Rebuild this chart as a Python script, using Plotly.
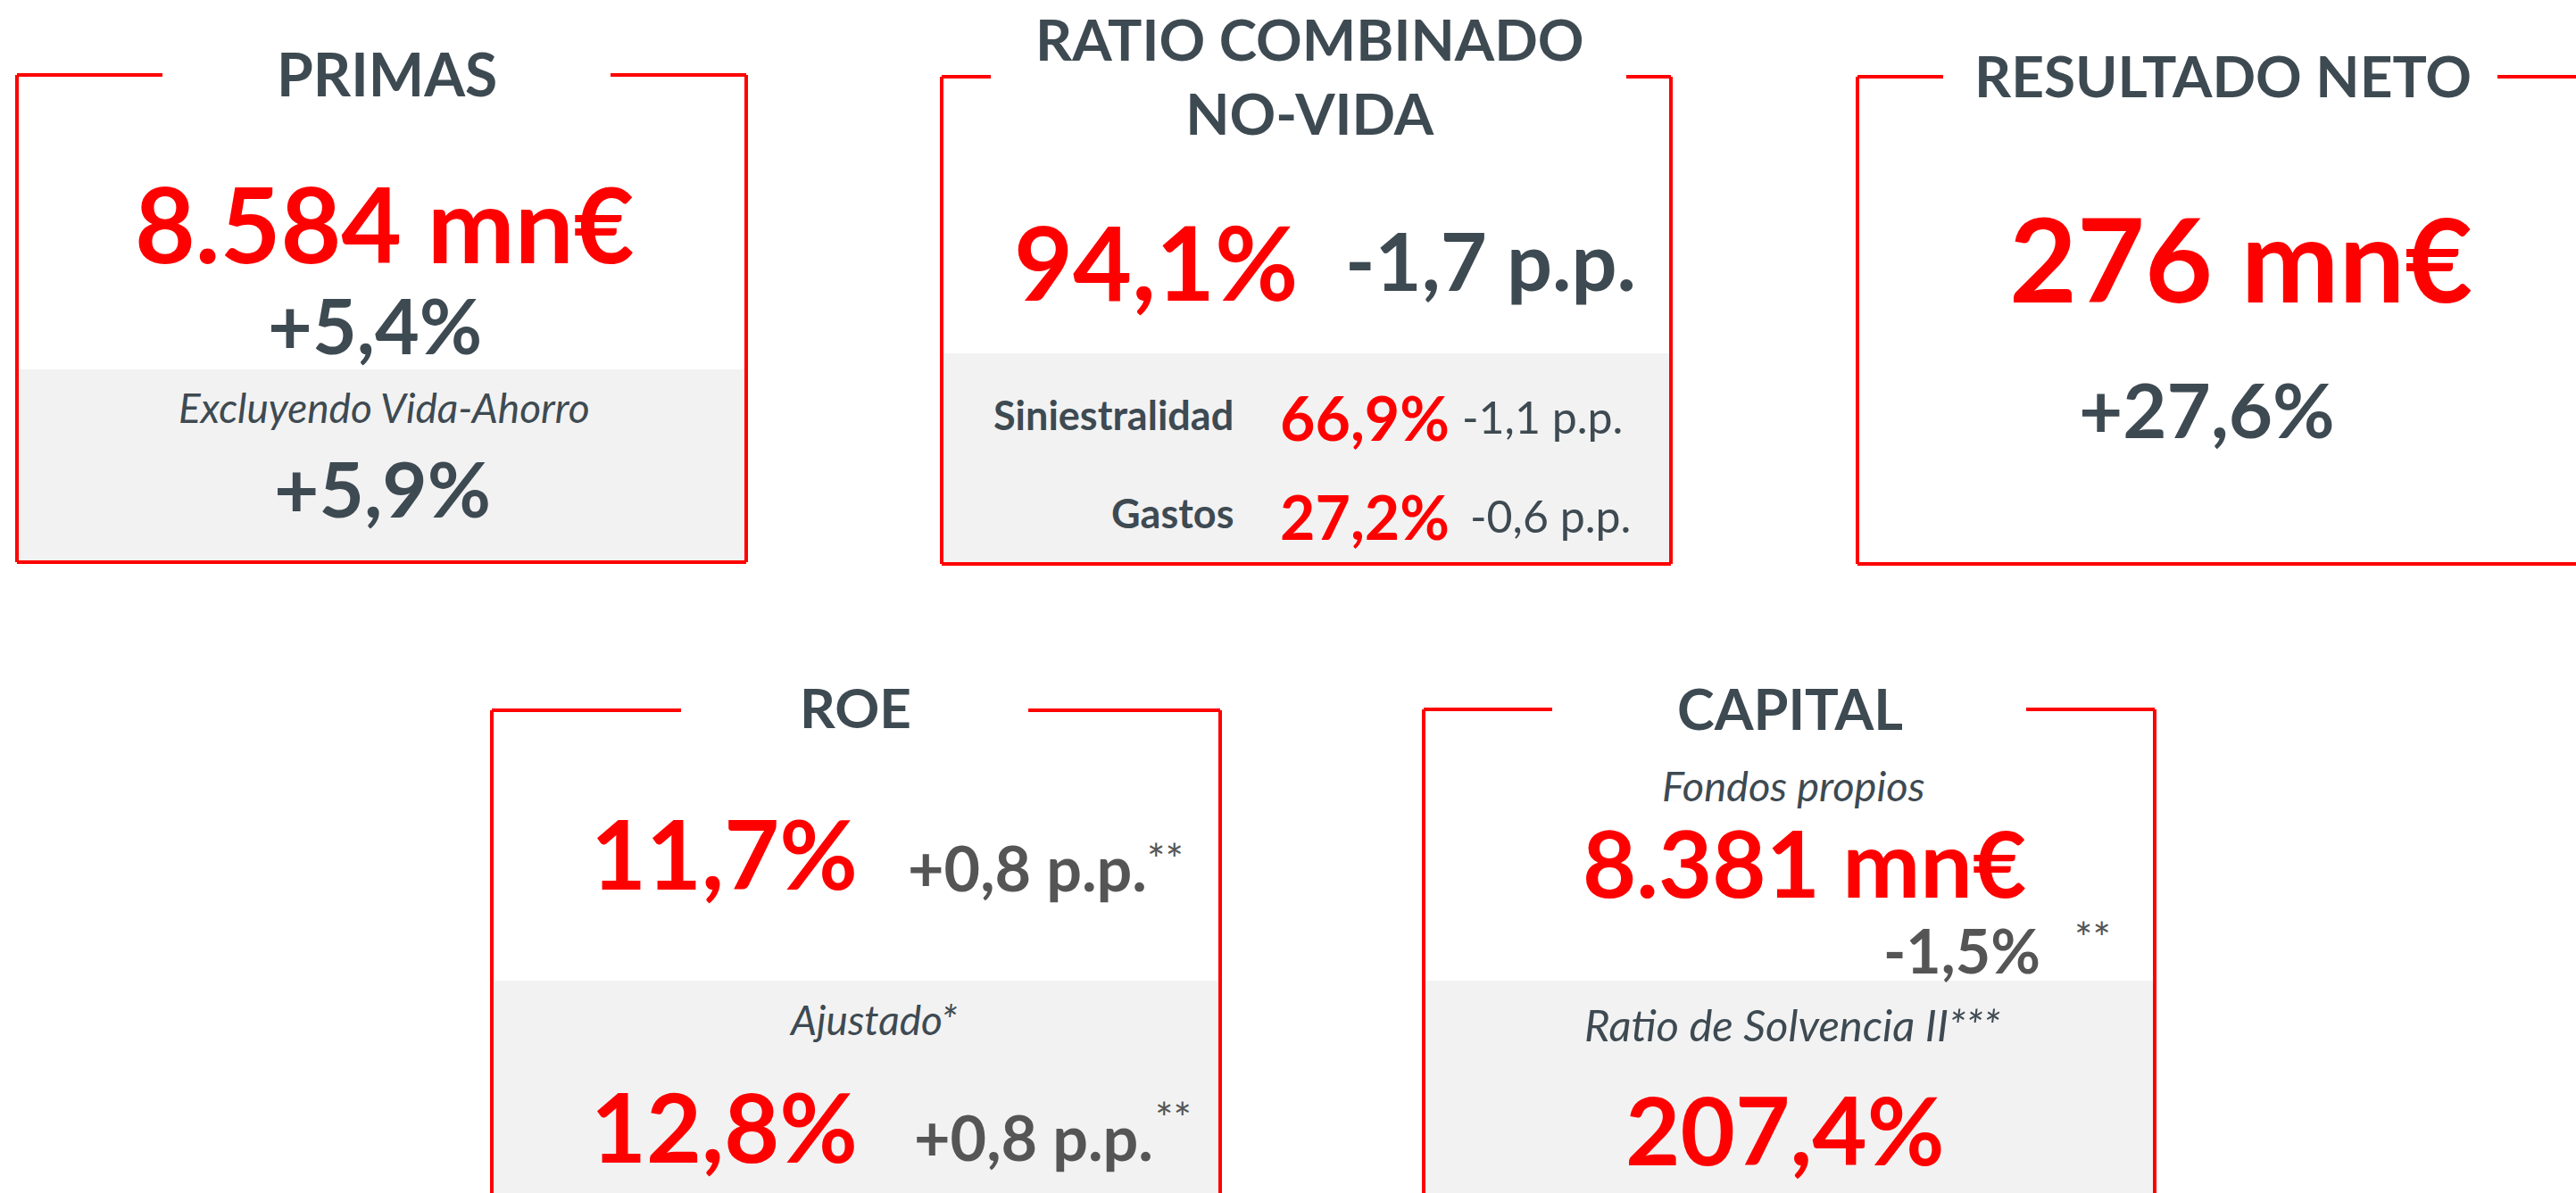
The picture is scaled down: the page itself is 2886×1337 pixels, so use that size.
import plotly.graph_objects as go

# ---------------- data ----------------
card_titles = ["PRIMAS", "RATIO COMBINADO<br>NO-VIDA", "RESULTADO NETO", "ROE", "CAPITAL"]

primas_value = "8.584 mn€"
primas_change = "+5,4%"
primas_sub_label = "Excluyendo Vida-Ahorro"
primas_sub_change = "+5,9%"

ratio_value = "94,1%"
ratio_change = "-1,7 p.p."
ratio_components = ["Siniestralidad", "Gastos"]
ratio_component_values = ["66,9%", "27,2%"]
ratio_component_changes = ["-1,1 p.p.", "-0,6 p.p."]

resultado_value = "276 mn€"
resultado_change = "+27,6%"

roe_values = ["11,7%", "12,8%"]
roe_changes = ["+0,8 p.p.", "+0,8 p.p."]
roe_sub_label = "Ajustado*"

capital_labels = ["Fondos propios", "Ratio de Solvencia II***"]
capital_value = "8.381 mn€"
capital_change = "-1,5%"
solvency_value = "207,4%"
footnote_mark = "**"

# ---------------- style ----------------
W, H = 2886, 1337
RED = "#FF0000"
SLATE = "#3E4A52"
GREY = "#555555"
BAND = "#F2F2F2"
FONT = "Lato"

fig = go.Figure()
fig.add_trace(go.Scatter(x=[0, W], y=[0, H], mode="markers",
                         marker=dict(opacity=0), hoverinfo="skip", showlegend=False))

shapes = []

def card(x0, x1, ytop, ybot, seg_l, seg_r, band_y=None):
    if band_y is not None:
        shapes.append(dict(type="rect", x0=x0, x1=x1, y0=band_y, y1=ybot,
                           fillcolor=BAND, line=dict(width=0), layer="below"))
    line = dict(color=RED, width=4)
    shapes.append(dict(type="line", x0=x0, x1=x0, y0=ytop, y1=ybot, line=line))
    shapes.append(dict(type="line", x0=x1, x1=x1, y0=ytop, y1=ybot, line=line))
    shapes.append(dict(type="line", x0=x0, x1=x1, y0=ybot, y1=ybot, line=line))
    shapes.append(dict(type="line", x0=x0, x1=seg_l, y0=ytop, y1=ytop, line=line))
    shapes.append(dict(type="line", x0=seg_r, x1=x1, y0=ytop, y1=ytop, line=line))

card(19, 836, 84, 630, 182, 684, 414)
card(1055, 1872, 86, 632, 1110, 1822, 396)
card(2081, 2950, 86, 632, 2177, 2798)
card(551, 1367, 796, 1420, 763, 1152, 1099)
card(1595, 2414, 795, 1420, 1739, 2270, 1099)

ann = []

def t(text, x, y, size, color=SLATE, weight="bold", style="normal", xanchor="center"):
    ann.append(dict(text=text, x=x, y=y, xref="x", yref="y", showarrow=False,
                    xanchor=xanchor, yanchor="middle",
                    font=dict(family=FONT, size=size, color=color, weight=weight, style=style)))

# Card 1 - PRIMAS
t(card_titles[0], 433, 82, 66)
t(primas_value, 431, 250, 117, RED)
t(primas_change, 420, 363, 86)
t(primas_sub_label, 430, 456, 46, weight="normal", style="italic")
t(primas_sub_change, 428, 546, 87)

# Card 2 - RATIO COMBINADO
ann.append(dict(text=card_titles[1], x=1467, y=85, xref="x", yref="y", showarrow=False,
                xanchor="center", yanchor="middle", align="center",
                font=dict(family=FONT, size=64, color=SLATE, weight="bold")))
t(ratio_value, 1456, 292, 114, RED, xanchor="right")
t(ratio_change, 1505, 291, 90, xanchor="left")
comp_y = [465, 575]
comp_val_y = [467, 578]
for i in range(2):
    t(ratio_components[i], 1384, comp_y[i], 45, xanchor="right")
    t(ratio_component_values[i], 1432, comp_val_y[i], 68, RED, xanchor="left")
    t(ratio_component_changes[i], [1636, 1645][i], comp_val_y[i], 50, weight="normal", xanchor="left")

# Card 3 - RESULTADO NETO
t(card_titles[2], 2490, 84, 64)
t(resultado_value, 2510, 288, 131, RED)
t(resultado_change, 2472, 458, 85)

# Card 4 - ROE
t(card_titles[3], 958, 792, 62)
roe_y = [955, 1261]
roe_ch_x = [1015, 1022]
roe_ch_y = [972, 1274]
roe_star_x = [1283, 1292]
roe_star_y = [962, 1252]
for i in range(2):
    t(roe_values[i], 963, roe_y[i], 107, RED, xanchor="right")
    t(roe_changes[i], roe_ch_x[i], roe_ch_y[i], 70, GREY, xanchor="left")
    t(footnote_mark, roe_star_x[i], roe_star_y[i], 48, GREY, weight="normal", xanchor="left")
t(roe_sub_label, 978, 1142, 46, weight="normal", style="italic")

# Card 5 - CAPITAL
t(card_titles[4], 2005, 793, 63)
t(capital_labels[0], 2009, 880, 47, weight="normal", style="italic")
t(capital_value, 2021, 965, 104, RED)
t(capital_change, 2288, 1064, 68, GREY, xanchor="right")
t(footnote_mark, 2322, 1050, 48, GREY, weight="normal", xanchor="left")
t(capital_labels[1], 2008, 1148, 49, weight="normal", style="italic")
t(solvency_value, 2000, 1265, 106, RED)

fig.update_layout(
    width=W, height=H,
    margin=dict(l=0, r=0, t=0, b=0),
    paper_bgcolor="white", plot_bgcolor="white",
    xaxis=dict(range=[0, W], visible=False, fixedrange=True),
    yaxis=dict(range=[H, 0], visible=False, fixedrange=True),
    shapes=shapes, annotations=ann, showlegend=False,
)

fig.write_html("out.html", config={"displayModeBar": False},
               post_script="document.body.style.margin='0';document.body.style.overflow='hidden';")
